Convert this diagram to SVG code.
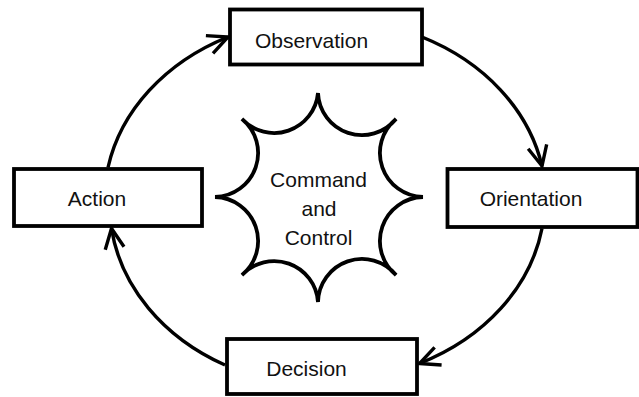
<svg xmlns="http://www.w3.org/2000/svg" width="639" height="397" viewBox="0 0 639 397">
<defs>
<style>
.box{fill:#fff;stroke:#000;stroke-width:3.8}
.lbl{font-family:"Liberation Sans",Arial,sans-serif;font-size:21px;fill:#111;text-anchor:middle}
.conn{fill:none;stroke:#000;stroke-width:3.4}
.star{fill:#fff;stroke:#000;stroke-width:3.8;stroke-linejoin:miter}
</style>
<marker id="arr" markerUnits="userSpaceOnUse" viewBox="-24 -13 28 26" markerWidth="28" markerHeight="26" refX="0" refY="0" orient="auto" overflow="visible">
<path d="M-20,-9.5 L0,0 L-20,9.5" fill="none" stroke="#000" stroke-width="3.4" stroke-linejoin="miter"/>
</marker>
</defs>
<rect width="639" height="397" fill="#fff"/>
<g id="connectors">
<path class="conn" d="M108,167.5 A220,182 0 0 1 228,37" marker-end="url(#arr)"/>
<path class="conn" d="M422,37 A220,182 0 0 1 542,166" marker-end="url(#arr)"/>
<path class="conn" d="M542,228.5 A220,182 0 0 1 419.5,363.5" marker-end="url(#arr)"/>
<path class="conn" d="M225,365 A220,182 0 0 1 111.5,228.5" marker-end="url(#arr)"/>
</g>
<g id="command">
<path class="star" d="M318,93 A44,44 0 0 0 396,119 A44,44 0 0 0 423,197 A44,44 0 0 0 396,275 A44,44 0 0 0 318,302 A44,44 0 0 0 242,275 A44,44 0 0 0 215,197 A44,44 0 0 0 242,119 A44,44 0 0 0 318,93 Z"/>
<text class="lbl" x="318.5" y="187">Command</text>
<text class="lbl" x="319" y="215.5">and</text>
<text class="lbl" x="318.5" y="245">Control</text>
</g>
<g id="observation">
<rect class="box" x="230" y="9.5" width="192" height="55"/>
<text class="lbl" x="311.5" y="48">Observation</text>
</g>
<g id="orientation">
<rect class="box" x="447.5" y="169" width="190" height="58"/>
<text class="lbl" x="531" y="205.5">Orientation</text>
</g>
<g id="action">
<rect class="box" x="14" y="169" width="188" height="57"/>
<text class="lbl" x="97" y="205.5">Action</text>
</g>
<g id="decision">
<rect class="box" x="227" y="339" width="190" height="55"/>
<text class="lbl" x="306.5" y="375.5">Decision</text>
</g>
</svg>
